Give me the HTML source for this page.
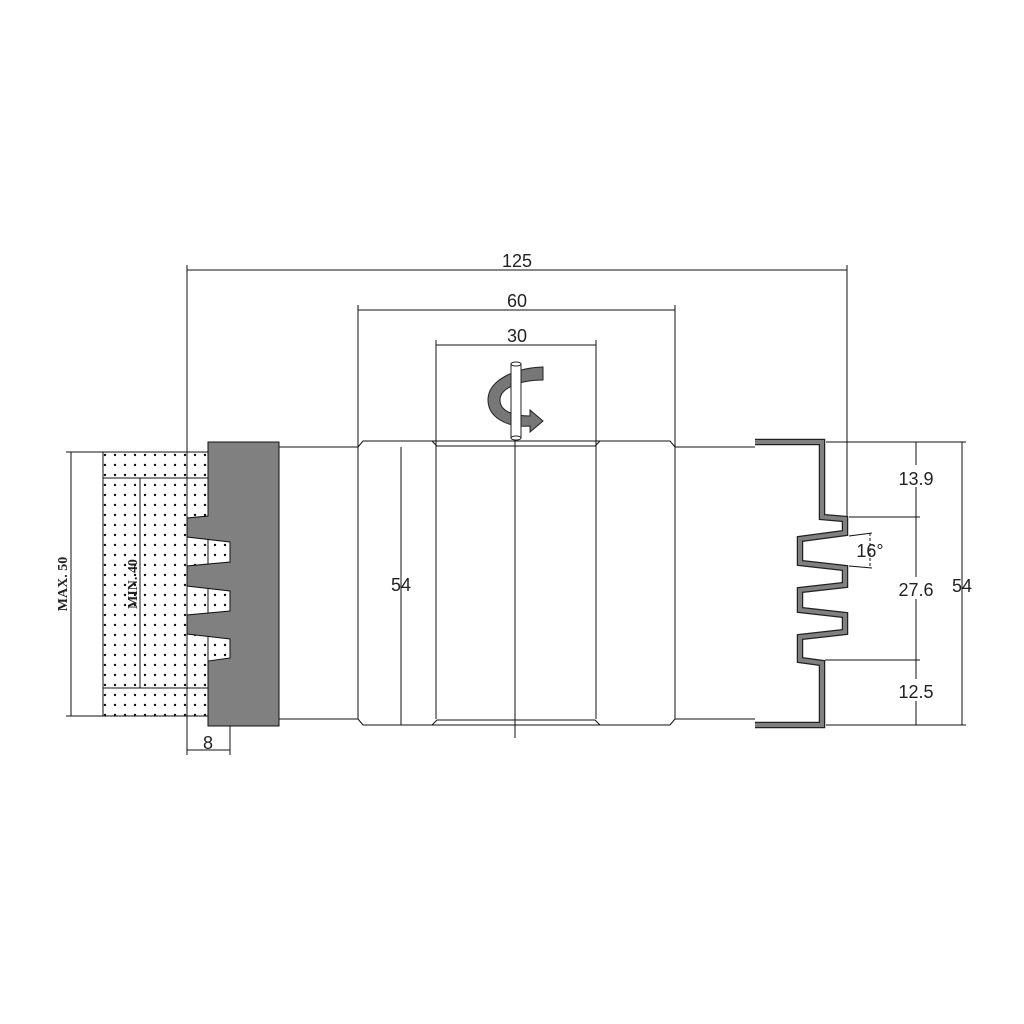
<!DOCTYPE html>
<html><head><meta charset="utf-8"><style>
html,body{margin:0;padding:0;background:#fff}
svg{display:block}
text{font-family:"Liberation Sans",sans-serif;font-size:18px;fill:#222}
.s{font-family:"Liberation Serif",serif;font-weight:bold;font-size:14px}
</style></head><body>
<svg width="1024" height="1024" viewBox="0 0 1024 1024" xmlns="http://www.w3.org/2000/svg">
<defs>
<pattern id="dots" x="0" y="0" width="10" height="10" patternUnits="userSpaceOnUse">
<circle cx="5" cy="5" r="1.2" fill="#111"/>
</pattern>
</defs>
<g stroke="#111" stroke-width="1" fill="none">
<line x1="187" y1="270" x2="847" y2="270"/>
<line x1="187" y1="265" x2="187" y2="755"/>
<line x1="847" y1="265" x2="847" y2="517"/>
<line x1="358" y1="310" x2="675" y2="310"/>
<line x1="358" y1="305" x2="358" y2="447"/>
<line x1="675" y1="305" x2="675" y2="447"/>
<line x1="436" y1="345" x2="596" y2="345"/>
<line x1="436" y1="340" x2="436" y2="447"/>
<line x1="596" y1="340" x2="596" y2="447"/>
<line x1="279" y1="447" x2="358" y2="447"/>
<line x1="675" y1="447" x2="755" y2="447"/>
<line x1="279" y1="719" x2="358" y2="719"/>
<line x1="675" y1="719" x2="755" y2="719"/>
<polyline points="358,447 363,441 670,441 675,447"/>
<polyline points="432,441 437,446 595,446 600,441"/>
<polyline points="358,719 363,725 670,725 675,719"/>
<polyline points="432,725 437,720 595,720 600,725"/>
<line x1="358" y1="447" x2="358" y2="719"/>
<line x1="436" y1="447" x2="436" y2="719"/>
<line x1="596" y1="447" x2="596" y2="719"/>
<line x1="675" y1="447" x2="675" y2="719"/>
<line x1="401" y1="447" x2="401" y2="725"/>
<line x1="515" y1="440" x2="515" y2="738"/>
</g>
<text x="401" y="591" text-anchor="middle">54</text>
<text x="517" y="270" text-anchor="middle" dy="-3">125</text>
<text x="517" y="307" text-anchor="middle">60</text>
<text x="517" y="342" text-anchor="middle">30</text>
<!-- rotation arrow -->
<path d="M543,367 L543,380 C520,380 500,388 500,400 C500,412 515,416 530,416 L530,410 L543,421 L530,432 L530,426 C505,428 488,416 488,400 C488,380 515,368 543,367 Z" fill="#777" stroke="#222" stroke-width="1"/>
<rect x="511" y="364" width="10" height="74" fill="#fff" stroke="#222" stroke-width="1"/>
<ellipse cx="516" cy="364" rx="5" ry="2" fill="#fff" stroke="#222"/>
<ellipse cx="516" cy="438" rx="5" ry="2" fill="#fff" stroke="#222"/>
<!-- workpiece -->
<rect x="103" y="452" width="127" height="264" fill="url(#dots)"/>
<rect x="103" y="452" width="105" height="264" fill="none" stroke="#111"/>
<g stroke="#111" fill="none">
<line x1="103" y1="478" x2="208" y2="478"/>
<line x1="103" y1="688" x2="208" y2="688"/>
<line x1="140" y1="478" x2="140" y2="688"/>
<line x1="71" y1="452" x2="71" y2="716"/>
<line x1="66" y1="452" x2="103" y2="452"/>
<line x1="66" y1="716" x2="103" y2="716"/>
<line x1="230" y1="640" x2="230" y2="755"/>
<line x1="187" y1="750" x2="230" y2="750"/>
</g>
<polygon points="279,442 208,442 208,516 187,518 187,537 230,542 230,562 187,566 187,586 230,591 230,611 187,615 187,634 230,639 230,658 208,661 208,726 279,726" fill="#808080" stroke="#111"/>
<text x="208" y="749" text-anchor="middle">8</text>
<text class="s" transform="translate(67,584) rotate(-90)" text-anchor="middle">MAX. 50</text>
<text class="s" transform="translate(137,584) rotate(-90)" text-anchor="middle">MIN. 40</text>
<!-- right profile -->
<path d="M755,442 L822,442 L822,517 L845,519 L845,533 L800,539 L800,563 L845,568 L845,585 L800,590 L800,610 L845,615 L845,632 L800,637 L800,660 L822,663 L822,725 L755,725" fill="none" stroke="#222" stroke-width="6.5"/>
<path d="M755,442 L822,442 L822,517 L845,519 L845,533 L800,539 L800,563 L845,568 L845,585 L800,590 L800,610 L845,615 L845,632 L800,637 L800,660 L822,663 L822,725 L755,725" fill="none" stroke="#808080" stroke-width="4"/>
<g stroke="#111" fill="none">
<line x1="826" y1="442" x2="966" y2="442"/>
<line x1="826" y1="725" x2="966" y2="725"/>
<line x1="849" y1="517" x2="920" y2="517"/>
<line x1="825" y1="660" x2="920" y2="660"/>
<line x1="916" y1="442" x2="916" y2="725"/>
<line x1="962" y1="442" x2="962" y2="725"/>
<line x1="849" y1="536" x2="872" y2="533"/>
<line x1="849" y1="566" x2="872" y2="568"/>
<line x1="870" y1="533" x2="870" y2="568" stroke-dasharray="3,2"/>
</g>
<rect x="900" y="465" width="34" height="22" fill="#fff"/>
<rect x="900" y="577" width="34" height="22" fill="#fff"/>
<rect x="900" y="679" width="34" height="22" fill="#fff"/>
<text x="916" y="485" text-anchor="middle">13.9</text>
<text x="916" y="596" text-anchor="middle">27.6</text>
<text x="916" y="698" text-anchor="middle">12.5</text>
<text x="962" y="592" text-anchor="middle">54</text>
<text x="870" y="557" text-anchor="middle">16°</text>
</svg>
</body></html>
